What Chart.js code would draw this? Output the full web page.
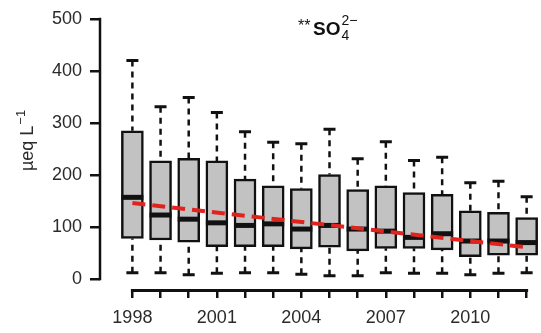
<!DOCTYPE html>
<html>
<head>
<meta charset="utf-8">
<script src="https://cdn.jsdelivr.net/npm/chart.js@4.4.1/dist/chart.umd.min.js"></script>
<style>
  html, body { margin: 0; padding: 0; background: #fff; }
  canvas { display: block; }
</style>
</head>
<body>
<canvas id="chart" width="541" height="333"></canvas>
<script>
// Annual sulphate concentrations (µeq L-1), box-and-whisker summary per year
const years        = [1998, 1999, 2000, 2001, 2002, 2003, 2004, 2005, 2006, 2007, 2008, 2009, 2010, 2011, 2012];
const whiskerHigh  = [420, 331, 349, 320, 283, 263, 260, 288, 231, 264, 228, 234, 185, 188, 158];
const upperQuart   = [285, 227, 232, 227, 192, 179, 174, 201, 172, 179, 166, 163, 131, 128, 118];
const medians      = [157, 123, 115, 108, 103, 106,  96, 103,  96,  92,  80,  87,  73,  73,  70];
const lowerQuart   = [ 78,  75,  71,  62,  62,  62,  58,  61,  54,  59,  59,  56,  43,  46,  46];
const whiskerLow   = [ 12,  12,   8,  11,  12,  12,   9,   6,   6,  12,  11,  11,   8,  11,  12];

// Linear trend (start and end of the fitted line)
const trendYears   = [1998, 2012];
const trendValues  = [146, 61];

// Axis ticks
const yTicks       = [0, 100, 200, 300, 400, 500];
const xLabelYears  = [1998, 2001, 2004, 2007, 2010];

const INK = '#111';
const TEXT = '#2b2b2b';
const BOX_W = 22;
const AXIS_W = 2.5;
const FONT = '"Liberation Sans", Arial, sans-serif';

// R-style axis lines that only span the tick range
function drawAxisLines(chart) {
  const { ctx, scales: { x, y } } = chart;
  ctx.save();
  ctx.strokeStyle = INK;
  ctx.lineCap = 'square';
  ctx.setLineDash([]);
  ctx.lineWidth = AXIS_W;
  const axisX = x.getPixelForValue(x.min);
  ctx.beginPath();
  ctx.moveTo(axisX, y.getPixelForValue(yTicks[0]));
  ctx.lineTo(axisX, y.getPixelForValue(yTicks[yTicks.length - 1]));
  ctx.stroke();
  const axisY = y.getPixelForValue(y.min) + 0.5;
  ctx.lineWidth = 3;
  ctx.beginPath();
  ctx.moveTo(x.getPixelForValue(years[0]), axisY);
  ctx.lineTo(x.getPixelForValue(years[years.length - 1]), axisY);
  ctx.stroke();
  ctx.restore();
}

const boxExtras = {
  id: 'boxExtras',
  afterDatasetDraw(chart, args) {
    if (args.index !== 0) return;
    const { ctx, scales: { x, y } } = chart;
    ctx.save();
    ctx.strokeStyle = INK;
    years.forEach((yr, i) => {
      const cx = x.getPixelForValue(yr);
      // dashed whiskers, drawn from the cap toward the box
      ctx.lineWidth = 2.5;
      ctx.setLineDash([6, 5]);
      ctx.lineCap = 'butt';
      ctx.beginPath();
      ctx.moveTo(cx, y.getPixelForValue(whiskerHigh[i]));
      ctx.lineTo(cx, y.getPixelForValue(upperQuart[i]));
      ctx.moveTo(cx, y.getPixelForValue(whiskerLow[i]));
      ctx.lineTo(cx, y.getPixelForValue(lowerQuart[i]));
      ctx.stroke();
      // whisker caps
      ctx.setLineDash([]);
      ctx.lineWidth = 3;
      ctx.beginPath();
      [whiskerHigh[i], whiskerLow[i]].forEach(v => {
        const py = y.getPixelForValue(v);
        ctx.moveTo(cx - 6, py);
        ctx.lineTo(cx + 6, py);
      });
      ctx.stroke();
      // median bar
      ctx.lineWidth = 5;
      ctx.beginPath();
      const my = y.getPixelForValue(medians[i]);
      ctx.moveTo(cx - BOX_W / 2, my);
      ctx.lineTo(cx + BOX_W / 2, my);
      ctx.stroke();
    });
    ctx.restore();
  },
  afterDraw(chart) {
    const { ctx } = chart;
    drawAxisLines(chart);
    ctx.save();
    // panel title: **SO4 2-
    ctx.fillStyle = INK;
    ctx.textBaseline = 'alphabetic';
    ctx.textAlign = 'left';
    ctx.font = '16px ' + FONT;
    ctx.fillText('**', 298, 31);
    ctx.font = 'bold 19px ' + FONT;
    ctx.fillText('SO', 313, 35);
    const soW = ctx.measureText('SO').width;
    ctx.font = '14px ' + FONT;
    ctx.fillText('2\u2212', 313 + soW + 1, 25);
    ctx.fillText('4', 313 + soW + 1, 40);

    // y axis title: µeq L-1
    ctx.fillStyle = TEXT;
    ctx.translate(33, 141);
    ctx.rotate(-Math.PI / 2);
    ctx.font = '18px ' + FONT;
    const main = '\u00B5eq L';
    const w1 = ctx.measureText(main).width;
    ctx.font = '13px ' + FONT;
    const sup = '\u22121';
    const w2 = ctx.measureText(sup).width;
    const start = -(w1 + w2) / 2;
    ctx.font = '18px ' + FONT;
    ctx.fillText(main, start, 0);
    ctx.font = '13px ' + FONT;
    ctx.fillText(sup, start + w1 + 1, -8);
    ctx.restore();
  }
};

new Chart(document.getElementById('chart'), {
  type: 'bar',
  data: {
    datasets: [
      {
        type: 'bar',
        data: years.map((yr, i) => ({ x: yr, y: [lowerQuart[i], upperQuart[i]] })),
        backgroundColor: '#c2c2c2',
        borderColor: INK,
        borderWidth: 2.5,
        borderSkipped: false,
        barThickness: BOX_W,
        grouped: false,
        order: 2
      },
      {
        type: 'line',
        data: trendYears.map((yr, i) => ({ x: yr, y: trendValues[i] })),
        borderColor: '#e0231d',
        borderWidth: 4,
        borderDash: [13, 7],
        pointRadius: 0,
        fill: false,
        order: 0
      }
    ]
  },
  options: {
    responsive: false,
    devicePixelRatio: 1,
    animation: false,
    events: [],
    layout: { padding: { top: 19, right: 0, bottom: 0, left: 0 } },
    plugins: { legend: { display: false }, tooltip: { enabled: false }, title: { display: false } },
    scales: {
      x: {
        type: 'linear',
        offset: false,
        min: 1996.85,
        max: 2012.51,
        afterFit: s => { s.height = 43; },
        afterBuildTicks: s => { s.ticks = years.map(v => ({ value: v })); },
        grid: { offset: false, drawOnChartArea: false, drawTicks: true, tickLength: 8, lineWidth: 2.5, color: INK },
        border: { display: false },
        ticks: {
          autoSkip: false,
          maxRotation: 0,
          padding: 9,
          color: TEXT,
          font: { family: FONT, size: 18 },
          callback: v => (xLabelYears.includes(v) ? String(v) : '')
        }
      },
      y: {
        type: 'linear',
        min: -21.2,
        max: 500,
        afterFit: s => { s.width = 100; },
        afterBuildTicks: s => { s.ticks = yTicks.map(v => ({ value: v })); },
        grid: { drawOnChartArea: false, drawTicks: true, tickLength: 10, lineWidth: 2.5, color: INK },
        border: { display: false },
        ticks: {
          padding: 8,
          color: TEXT,
          font: { family: FONT, size: 18 }
        }
      }
    }
  },
  plugins: [boxExtras]
});
</script>
</body>
</html>
